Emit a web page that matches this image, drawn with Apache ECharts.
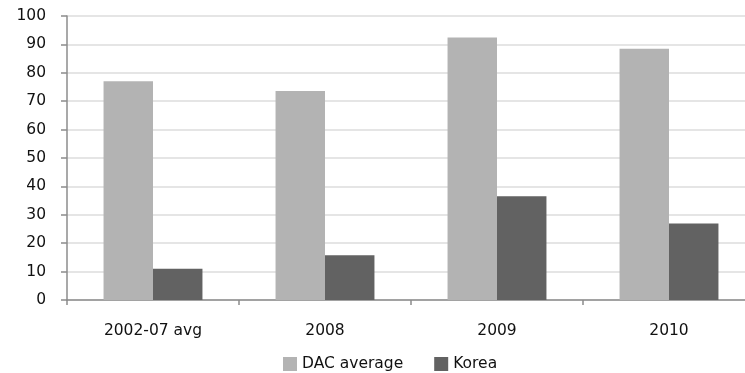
<!DOCTYPE html>
<html lang="en">

<head>
  <meta charset="UTF-8">
  <title>DAC average vs Korea</title>
  <script src="https://cdn.jsdelivr.net/npm/echarts@6.0.0/dist/echarts.min.js"></script>
  <style>
    body { margin: 0; background: #fff; }
    #chart { width: 745px; height: 373px; }
  </style>
</head>

<body>
  <div id="chart"></div>
  <script>
    let categories = ['2002-07 avg', '2008', '2009', '2010'];
    let dacAverage = [77, 73.6, 92.4, 88.5];
    let korea = [11, 15.8, 36.5, 26.9];
    let yTicks = { min: 0, max: 100, step: 10 };

    let textStyle = { fontFamily: 'DejaVu Sans', fontSize: 15.5, color: '#111' };

    let chart = echarts.init(document.getElementById('chart'));
    let option = {
      animation: false,
      // plot runs past the right edge in the original
      grid: { left: 67, width: 688, top: 16, bottom: 73, outerBoundsMode: 'none' },
      legend: {
        bottom: -4,
        left: 278,
        itemWidth: 14,
        itemHeight: 14,
        itemGap: 31,
        icon: 'rect',
        textStyle: textStyle,
        data: ['DAC average', 'Korea']
      },
      xAxis: {
        type: 'category',
        data: categories,
        axisLine: { lineStyle: { color: '#8c8c8c', width: 1.5 } },
        axisTick: { show: true, length: 5, lineStyle: { color: '#8c8c8c', width: 1.5 } },
        axisLabel: Object.assign({ margin: 23 }, textStyle)
      },
      yAxis: {
        type: 'value',
        min: yTicks.min,
        max: yTicks.max,
        interval: yTicks.step,
        axisLine: { show: true, lineStyle: { color: '#8c8c8c', width: 1.5 } },
        axisTick: { show: true, length: 6, lineStyle: { color: '#8c8c8c', width: 1.5 } },
        axisLabel: Object.assign({ margin: 21 }, textStyle),
        splitLine: { lineStyle: { color: '#dcdcdc', width: 1.5 } }
      },
      series: [
        {
          type: 'bar',
          name: 'DAC average',
          data: dacAverage,
          barGap: '0%',
          barCategoryGap: '42.5%',
          itemStyle: { color: '#b3b3b3' }
        },
        {
          type: 'bar',
          name: 'Korea',
          data: korea,
          itemStyle: { color: '#626262' }
        }
      ]
    };

    chart.setOption(option);
  </script>
</body>

</html>
